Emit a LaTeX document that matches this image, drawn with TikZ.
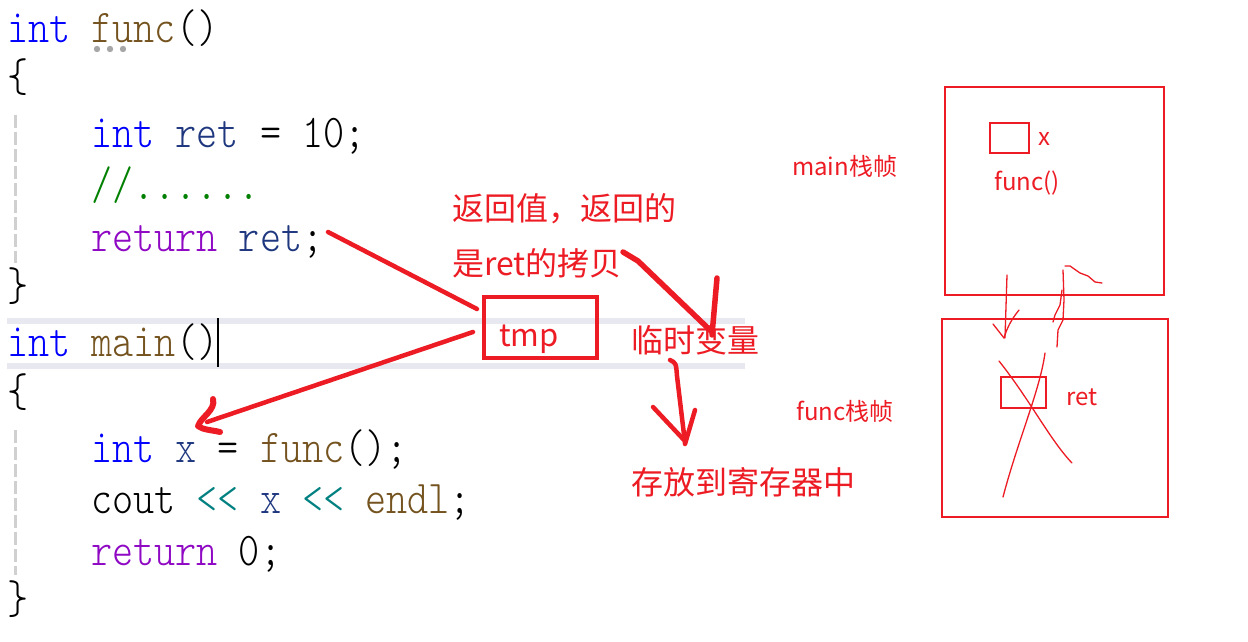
\documentclass[tikz,border=0pt]{standalone}
\usepackage{fontspec}
\usepackage{graphicx}
\newfontfamily\cjk{Noto Sans CJK SC}
\newfontfamily\codefont{lmmonolt10-regular.otf}
\definecolor{penred}{HTML}{ED1C24}
\definecolor{kwblue}{HTML}{0000FF}
\definecolor{fnbrown}{HTML}{74531F}
\definecolor{varnavy}{HTML}{1F377F}
\definecolor{cmgreen}{HTML}{008000}
\definecolor{kwpurple}{HTML}{8F08C4}
\definecolor{optea}{HTML}{008080}
\definecolor{guidegray}{HTML}{D0D0D0}
\definecolor{bandgray}{HTML}{E8E8F0}
\newcommand\cB[1]{\textcolor{kwblue}{#1}}
\newcommand\cF[1]{\textcolor{fnbrown}{#1}}
\newcommand\cV[1]{\textcolor{varnavy}{#1}}
\newcommand\cG[1]{\textcolor{cmgreen}{#1}}
\newcommand\cP[1]{\textcolor{kwpurple}{#1}}
\newcommand\cT[1]{\textcolor{optea}{#1}}
\newcommand\codetxt[1]{\scalebox{1}[1.17]{#1}}
\tikzset{
  codeline/.style={inner sep=0pt, anchor=base west, font=\codefont\fontsize{40.2}{44}\selectfont},
  redtxt/.style={inner sep=0pt, anchor=base west, text=penred, font=\cjk\fontsize{32}{38}\selectfont},
  smalltxt/.style={inner sep=0pt, anchor=base west, text=penred, font=\cjk\fontsize{24}{28}\selectfont},
  pen/.style={draw=penred, line width=4.5pt, line cap=round, line join=round},
  thinpen/.style={draw=penred, line width=1.3pt, line cap=round, line join=round},
  framebox/.style={draw=penred, line width=2.6pt, inner sep=0pt},
}
\begin{document}
\begin{tikzpicture}[x=1pt,y=-1pt]
\useasboundingbox (0,0) rectangle (1248,642);
\fill[white] (0,0) rectangle (1248,642);
% current-line highlight
\fill[bandgray] (7,318) rectangle (745,324);
\fill[bandgray] (7,363) rectangle (745,369);
% indent guides
\draw[guidegray, line width=3pt, dash pattern=on 13pt off 4pt] (15,115) -- (15,263);
\draw[guidegray, line width=3pt, dash pattern=on 13pt off 4pt] (15,430) -- (15,575);
% code
\node[codeline] (l1) at (7,43) {\codetxt{\cB{int} \cF{func}()}};
\node[codeline] (l2) at (7,92) {\codetxt{\{}};
\node[codeline] (l3) at (91,147) {\codetxt{\cB{int} \cV{ret} = 10;}};
\node[codeline] (l4) at (91,199) {\codetxt{\cG{//......}}};
\node[codeline] (l5) at (91,251) {\codetxt{\cP{return} \cV{ret};}};
\node[codeline] (l6) at (7,300) {\codetxt{\}}};
\node[codeline] (l7) at (7,356) {\codetxt{\cB{int} \cF{main}()}};
\node[codeline] (l8) at (7,406) {\codetxt{\{}};
\node[codeline] (l9) at (91,462) {\codetxt{\cB{int} \cV{x} = \cF{func}();}};
\node[codeline] (l10) at (91,513) {\codetxt{cout \cT{<\kern0pt<} \cV{x} \cT{<\kern0pt<} \cF{endl};}};
\node[codeline] (l11) at (91,565) {\codetxt{\cP{return} 0;}};
\node[codeline] (l12) at (7,613) {\codetxt{\}}};
% squiggle dots under func
\foreach \dx in {97,110,123} \fill[gray!70] (\dx,49) circle (3.2pt);
% cursor
\draw[black, line width=2pt] (218,318) -- (218,367);
% tmp box and red labels
\node[draw=penred, line width=4pt, minimum width=113pt, minimum height=61pt, inner sep=0pt] (tmpbox) at (540.5,327.5) {};
\node[redtxt, font=\cjk\fontsize{31}{36}\selectfont] (tmp) at (499,346) {tmp};
\node[redtxt] (ret1) at (452,220) {返回值，返回的};
\node[redtxt] (ret2) at (452,275) {是ret的拷贝};
\node[redtxt] (tmpvar) at (631,352) {临时变量};
\node[redtxt] (reg) at (631,494) {存放到寄存器中};
% hand-drawn red arrows
\coordinate (a1s) at (328,232);
\coordinate (a1e) at (477,309);
\draw[pen] (a1s) -- (a1e);
\coordinate (a2s) at (473,332);
\coordinate (a2e) at (207,422);
\draw[pen] (a2s) -- (a2e);
\draw[pen, line width=6pt] (213,399) .. controls (216,410) and (201,417) .. (198,426) .. controls (203,430) and (212,430) .. (220,432);
\coordinate (a3s) at (623,252);
\coordinate (a3e) at (712,332);
\draw[pen, line width=5.5pt] (a3s) -- (638,261) -- (a3e);
\draw[pen, line width=5.5pt] (717,278) -- (712,335);
\coordinate (a4s) at (670,360);
\coordinate (a4e) at (685,443);
\draw[pen] (a4s) .. controls (676,363) .. (677,376) -- (a4e);
\draw[pen] (653,407) -- (684,440);
\draw[pen] (695,410) -- (685,444);
% stack frames
\node[framebox, minimum width=219pt, minimum height=208pt] (mainframe) at (1054.5,191) {};
\node[framebox, minimum width=226pt, minimum height=198pt] (funcframe) at (1055,418) {};
\node[framebox, minimum width=39pt, minimum height=30pt] (xbox) at (1009.5,138) {};
\node[framebox, minimum width=45pt, minimum height=31pt] (retbox) at (1023.5,392.5) {};
\node[smalltxt] (xlab) at (1038,145) {x};
\node[smalltxt] (funccall) at (994,190) {func()};
\node[smalltxt] (retlab) at (1066,405) {ret};
\node[smalltxt] (mainlab) at (792,175) {main栈帧};
\node[smalltxt] (funclab) at (796,420) {func栈帧};
% thin hand-drawn strokes
\draw[thinpen] (1007,275) -- (1005,338);
\draw[thinpen] (993,324) -- (1004,338);
\draw[thinpen] (1019,310) .. controls (1011,320) and (1007,328) .. (1004,338);
\draw[thinpen] (1057,347) -- (1058,330) -- (1063,320) -- (1064,300) -- (1063,270);
\draw[thinpen] (1053,322) -- (1055,315) -- (1060,305) -- (1062,290);
\draw[thinpen] (1065,266) -- (1070,266) -- (1080,273) -- (1088,276) -- (1095,282) -- (1102,283);
\draw[thinpen] (999,361) .. controls (1030,400) and (1050,440) .. (1072,463);
\draw[thinpen] (1045,353) .. controls (1040,390) and (1018,440) .. (1003,497);
\end{tikzpicture}
\end{document}
